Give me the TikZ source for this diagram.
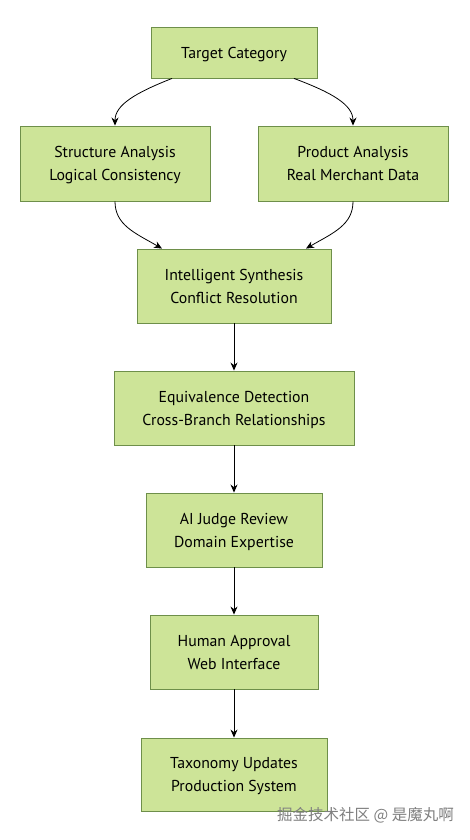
\documentclass[tikz,border=0pt]{standalone}
\usepackage{fontspec}
\setmainfont{PT Sans}
\newfontfamily\cjk{Noto Sans CJK SC}
\usetikzlibrary{arrows.meta}
\definecolor{boxfill}{HTML}{CDE498}
\definecolor{boxline}{HTML}{6E8F4A}
\begin{document}
\begin{tikzpicture}[x=1pt,y=-1pt,
  box/.style={draw=boxline,fill=boxfill,line width=0.9pt,rectangle,align=center,
    font=\fontsize{15.8}{23}\selectfont,inner sep=0pt},
  one/.style={box,text height=15pt},
  two/.style={box,text height=38pt,text depth=4pt},
  conn/.style={-{Stealth[length=8pt,width=7pt]},line width=0.8pt,black}]
\useasboundingbox[fill=white] (0,0) rectangle (470,840);
\node[one,minimum width=166pt,minimum height=51pt] (t) at (234,52.5) {Target Category};
\node[two,minimum width=190pt,minimum height=75pt] (s) at (115,163.5) {Structure Analysis\\Logical Consistency};
\node[two,minimum width=190pt,minimum height=75pt] (p) at (353,163.5) {Product Analysis\\Real Merchant Data};
\node[two,minimum width=194pt,minimum height=74pt] (i) at (234,286) {Intelligent Synthesis\\Conflict Resolution};
\node[two,minimum width=240pt,minimum height=74pt] (e) at (234,408) {Equivalence Detection\\Cross-Branch Relationships};
\node[two,minimum width=176pt,minimum height=74pt] (a) at (234,530) {AI Judge Review\\Domain Expertise};
\node[two,minimum width=168pt,minimum height=74pt] (h) at (234,652) {Human Approval\\Web Interface};
\node[two,minimum width=186pt,minimum height=73pt] (x) at (234,774.5) {Taxonomy Updates\\Production System};
\coordinate (t1) at ([xshift=-62pt]t.south);
\coordinate (t2) at ([xshift=60pt]t.south);
\coordinate (i1) at ([xshift=-72pt]i.north);
\coordinate (i2) at ([xshift=72pt]i.north);
\draw[conn] (t1) .. controls (135,93) and (115,105) .. (s.north);
\draw[conn] (t2) .. controls (333,93) and (353,105) .. (p.north);
\draw[conn] (s.south) .. controls (115,225) and (135,233) .. (i1);
\draw[conn] (p.south) .. controls (353,225) and (333,233) .. (i2);
\draw[conn] (i) -- (e);
\draw[conn] (e) -- (a);
\draw[conn] (a) -- (h);
\draw[conn] (h) -- (x);
\node[font=\cjk\fontsize{15.5}{18}\selectfont,text=black!50,anchor=east,inner sep=0pt] (w) at (454,815) {掘金技术社区 @ 是魔丸啊};
\end{tikzpicture}
\end{document}
